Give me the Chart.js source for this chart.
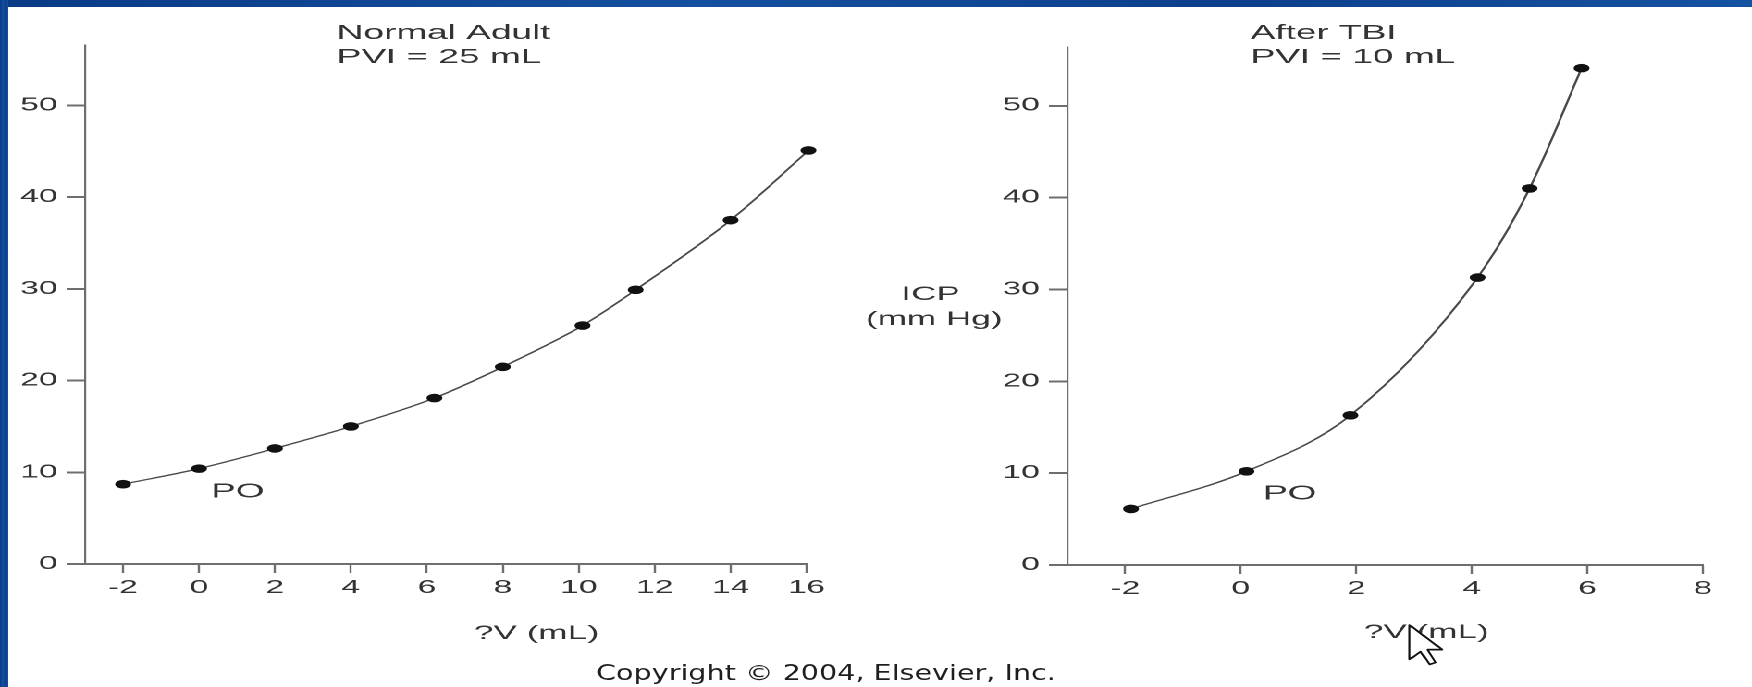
<!DOCTYPE html>
<html>
<head>
<meta charset="utf-8">
<script src="https://cdn.jsdelivr.net/npm/chart.js@4/dist/chart.umd.min.js"></script>
<style>
  html, body { margin: 0; padding: 0; background: #fff; overflow: hidden; }
  body { width: 1752px; height: 687px; position: relative; }
  /* the source figure is stretched sideways; draw at true shape and stretch the stage */
  #stage { position: absolute; left: 0; top: 0; width: 947px; height: 687px;
           transform: scaleX(1.85); transform-origin: 0 0; }
  #stage canvas { position: absolute; top: 0; }
  #left { left: 0; }
  #right { left: 460px; }
  .band { position: absolute; background: linear-gradient(90deg, #0a3a86, #1450a0 40%, #0c3f8c 70%, #1552a2); }
  /* slide caption, stretched less than the figure */
  #copy { position: absolute; left: 526px; width: 600px; top: 661.6px; text-align: center;
          font: 22px/22px "DejaVu Sans", Verdana, sans-serif; color: #1e1e1e; white-space: nowrap;
          transform: scaleX(1.3); transform-origin: 300px 0; }
  #cursor { position: absolute; left: 1408px; top: 624px; }
</style>
</head>
<body>
<div class="band" style="left:0;top:0;width:1752px;height:7px"></div>
<div class="band" style="left:0;top:0;width:8px;height:687px"></div>
<div id="stage">
  <canvas id="left" width="460" height="687"></canvas>
  <canvas id="right" width="487" height="687"></canvas>
</div>
<div id="copy">Copyright © 2004, Elsevier, Inc.</div>
<!-- mouse pointer caught in the screenshot -->
<svg id="cursor" width="38" height="42" viewBox="0 0 12 19" preserveAspectRatio="none">
  <path d="M0.5 0.5 L0.5 16 L4 12.5 L6.8 18.3 L8.8 17.4 L6.1 11.6 L10.8 11.6 Z"
        fill="#fff" stroke="#111" stroke-width="0.7" stroke-linejoin="round"/>
</svg>
<script>
// Readings (x = added volume mL, y = ICP mm Hg).
const NORMAL_DV = [-2, 0, 2, 4, 6.2, 8, 10.1, 11.5, 14, 16.05];
const NORMAL_ICP = [8.7, 10.4, 12.6, 15.0, 18.1, 21.5, 26.0, 29.9, 37.5, 45.1];
const TBI_DV = [-1.9, 0.1, 1.9, 4.1, 5.0, 5.9];
const TBI_ICP = [6.1, 10.2, 16.3, 31.3, 41.0, 54.1];

const ICP_TICKS = [0, 10, 20, 30, 40, 50];
const NORMAL_DV_TICKS = [-2, 0, 2, 4, 6, 8, 10, 12, 14, 16];
const TBI_DV_TICKS = [-2, 0, 2, 4, 6, 8];

const FONT = '"Liberation Sans", Arial, Helvetica, sans-serif';
const TEXT = "#333";
const AXIS = "#6e6e6e";

// Free-floating labels: titles, axis captions and the PO marker.
// A label with `at` is anchored to a data point, otherwise x/y are canvas pixels.
// Built per chart so the label list never goes through Chart.js option resolving.
function freeText(items) {
  return {
    id: "freeText",
    afterDraw(chart) {
      const { ctx, scales } = chart;
      ctx.save();
      ctx.fillStyle = TEXT;
      ctx.textBaseline = "alphabetic";
      for (const t of items) {
        let x = t.x, y = t.y;
        if (t.at) {
          x = scales.x.getPixelForValue(t.at[0]) + t.dx;
          y = scales.y.getPixelForValue(t.at[1]) + t.dy;
        }
        ctx.font = `${t.size}px ${FONT}`;
        ctx.textAlign = t.align || "left";
        ctx.fillText(t.text, x, y);
      }
      ctx.restore();
    },
  };
}

function panel(canvasId, xs, ys, xTicks, xMax, yMax, padding, labels) {
  return new Chart(document.getElementById(canvasId), {
    type: "line",
    data: {
      datasets: [{
        data: xs.map((x, i) => ({ x, y: ys[i] })),
        borderColor: "#4a4a4a",
        borderWidth: 1.3,
        tension: 0.35,
        cubicInterpolationMode: "monotone",
        pointRadius: 4.3,
        pointBackgroundColor: "#111",
        pointBorderWidth: 0,
        clip: false,
      }],
    },
    options: {
      responsive: false,
      devicePixelRatio: 2,
      animation: false,
      events: [],
      layout: { padding },
      plugins: { legend: { display: false }, tooltip: { enabled: false } },
      scales: {
        x: {
          type: "linear", min: -3, max: xMax,
          afterBuildTicks: (s) => { s.ticks = xTicks.map((value) => ({ value })); },
          afterFit: (s) => { s.height = 60; },
          grid: { drawOnChartArea: false, tickLength: 9, tickWidth: 1.2, tickColor: AXIS },
          border: { color: AXIS, width: 2 },
          ticks: { color: TEXT, padding: 4, maxRotation: 0, autoSkip: false, font: { family: FONT, size: 18 } },
        },
        y: {
          type: "linear", min: 0, max: yMax,
          afterBuildTicks: (s) => { s.ticks = ICP_TICKS.map((value) => ({ value })); },
          afterFit: (s) => { s.width = 46; },
          grid: { drawOnChartArea: false, tickLength: 10, tickWidth: 2, tickColor: AXIS },
          border: { color: AXIS, width: 1.1 },
          ticks: { color: TEXT, padding: 5, font: { family: FONT, size: 18 } },
        },
      },
    },
    plugins: [freeText(labels)],
  });
}

panel("left", NORMAL_DV, NORMAL_ICP, NORMAL_DV_TICKS, 16, 56.6,
  { left: 0, right: 24, top: 45, bottom: 63 },
  [
    { text: "Normal Adult", x: 182, y: 39, size: 20 },
    { text: "PVI = 25 mL", x: 182, y: 63, size: 20 },
    { text: "PO", at: [NORMAL_DV[1], NORMAL_ICP[1]], dx: 6.5, dy: 29, size: 20 },
    { text: "?V (mL)", x: 290, y: 639, size: 19, align: "center" },
  ]);

panel("right", TBI_DV, TBI_ICP, TBI_DV_TICKS, 8, 56.4,
  { left: 71, right: 26.5, top: 47, bottom: 62 },
  [
    { text: "After TBI", x: 216, y: 39, size: 20 },
    { text: "PVI = 10 mL", x: 216, y: 63, size: 20 },
    { text: "ICP", x: 43, y: 300, size: 19, align: "center" },
    { text: "(mm Hg)", x: 45, y: 325, size: 19, align: "center" },
    { text: "PO", at: [TBI_DV[1], TBI_ICP[1]], dx: 9, dy: 28, size: 20 },
    { text: "?V (mL)", x: 311, y: 638, size: 19, align: "center" },
  ]);
</script>
</body>
</html>
